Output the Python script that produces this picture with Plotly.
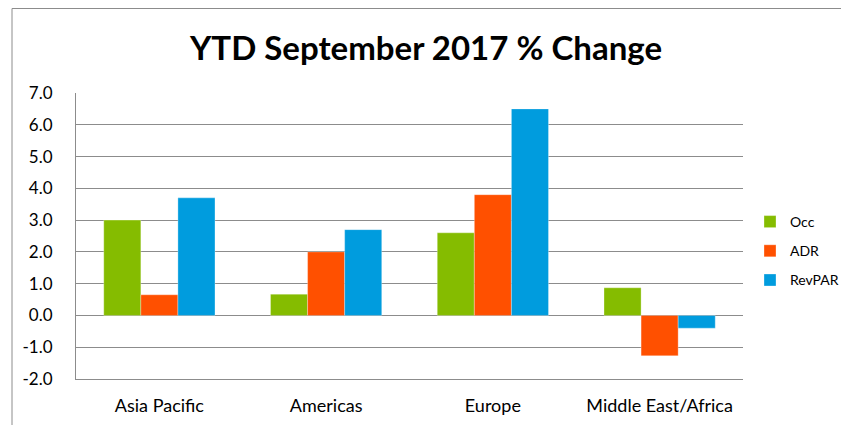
import plotly.graph_objects as go

categories = ["Asia Pacific", "Americas", "Europe", "Middle East/Africa"]
occ = [3.0, 0.67, 2.6, 0.87]
adr = [0.65, 2.0, 3.8, -1.27]
revpar = [3.7, 2.7, 6.5, -0.4]
series = [("Occ", occ, "#85BC00"), ("ADR", adr, "#FF5000"), ("RevPAR", revpar, "#009CDE")]
tick_vals = [-2, -1, 0, 1, 2, 3, 4, 5, 6, 7]
tick_text = [f"{v:.1f}" for v in tick_vals]

FONT = "Lato, Carlito, Calibri, sans-serif"
W, H = 841, 425
ml, mt = 76, 93
mr = W - 743
mb = H - 379
pw, ph = W - ml - mr, H - mt - mb

fig = go.Figure()
for name, vals, col in series:
    fig.add_trace(go.Bar(
        x=categories, y=vals, name=name, legendgroup=name,
        marker=dict(color=col, line=dict(color="rgba(255,255,255,0.6)", width=0.5)),
    ))

fig.update_layout(
    width=W, height=H,
    margin=dict(l=ml, r=mr, t=mt, b=mb, autoexpand=False),
    paper_bgcolor="white", plot_bgcolor="white",
    barmode="group", bargap=0.333, bargroupgap=0,
    font=dict(family=FONT, color="#000000"),
    title=dict(text="<b>YTD September 2017 % Change</b>", x=426/W, xanchor="center",
               y=1 - 48/H, yanchor="middle", font=dict(size=33, family=FONT, color="#000")),
    legend=dict(x=(750 - ml)/pw, xanchor="left", y=1 - (206 - mt)/ph, yanchor="top",
                font=dict(size=14, family=FONT), tracegroupgap=8, itemwidth=30,
                bgcolor="rgba(0,0,0,0)"),
    xaxis=dict(showline=True, linecolor="#8C8C8C", linewidth=1, ticks="",
               ticklabelstandoff=10,
               tickfont=dict(size=18, family=FONT), showgrid=False),
    yaxis=dict(range=[-2, 7], tickvals=tick_vals, ticktext=tick_text,
               showgrid=True, gridcolor="#8C8C8C", gridwidth=1,
               zeroline=True, zerolinecolor="#8C8C8C", zerolinewidth=1,
               showline=True, linecolor="#8C8C8C", linewidth=1, ticks="",
               ticklabelstandoff=19,
               tickfont=dict(size=17, family=FONT)),
    shapes=[dict(type="rect", xref="paper", yref="paper",
                 x0=(12 - ml)/pw, x1=(W + 20 - ml)/pw,
                 y0=-(mb + 20)/ph, y1=1 + (mt - 8.5)/ph,
                 line=dict(color="#8C8C8C", width=1), fillcolor="rgba(0,0,0,0)",
                 layer="below")],
)

fig.write_html("out.html",
               config={"displayModeBar": False},
               post_script="document.body.style.margin='0';document.body.style.overflow='hidden';")
